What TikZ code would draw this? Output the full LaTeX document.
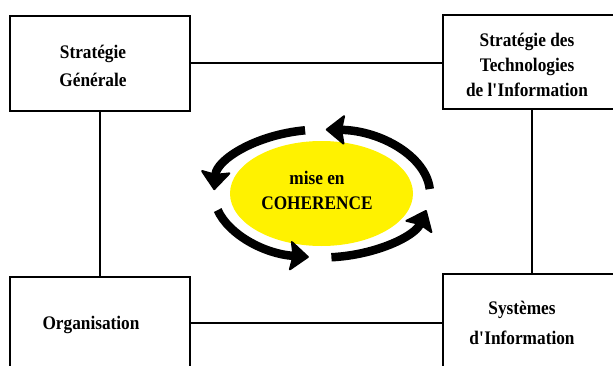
\documentclass[tikz,border=0pt]{standalone}
\usepackage{fontspec}
\setmainfont{Liberation Serif}[FakeStretch=0.9]
\usetikzlibrary{arrows.meta,shapes.geometric}
\begin{document}
\begin{tikzpicture}[x=1pt,y=1pt,
  box/.style={draw=black, line width=2pt, inner sep=0pt},
  link/.style={draw=black, line width=2pt},
  lbl/.style={font=\bfseries\fontsize{19.2}{#1}\selectfont, align=center, inner sep=0pt},
  cyc/.style={draw=black, line width=8.5pt, -{Stealth[length=20pt 0 0,width=32pt 0 0,inset=3pt,round,line width=2pt]}}
]
\useasboundingbox (0,0) rectangle (613,365);
% boxes
\node[box, minimum width=180pt, minimum height=95pt] (tl) at (100,301.5) {};
\node[box, minimum width=177pt, minimum height=94pt] (tr) at (531.5,303) {};
\node[box, minimum width=180pt, minimum height=92pt] (bl) at (100,42) {};
\node[box, minimum width=177pt, minimum height=98pt] (br) at (531.5,42) {};
% connectors
\draw[link] (tl.east) -- (tl.east -| tr.west);
\draw[link] (tl.south) -- (bl.north);
\draw[link] (tr.south) -- (br.north);
\draw[link] (bl.east) -- (bl.east -| br.west);
% labels
\node[lbl=28] (tltxt) at (93,299) {Stratégie\\Générale};
\node[lbl=25] (trtxt) at (527,300.5) {Stratégie des\\Technologies\\de l\textquotesingle Information};
\node[lbl=20] (bltxt) at (91,40) {Organisation};
\node[lbl=30] (brtxt) at (522,42) {Systèmes\\d\textquotesingle Information};
% centre
\node[ellipse, fill=yellow, minimum width=183pt, minimum height=105pt, inner sep=0pt] (coh) at (321.5,171.5) {};
\node[lbl=25] (cohtxt) at (317,174.5) {mise en\\COHERENCE};
\coordinate (o) at (322,171.5);
\draw[cyc] ([shift={(4:108pt and 64pt)}]o) arc[start angle=4, end angle=88, x radius=108pt, y radius=64pt];
\draw[cyc] ([shift={(99:108pt and 64pt)}]o) arc[start angle=99, end angle=177, x radius=108pt, y radius=64pt];
\draw[cyc] ([shift={(195:108pt and 64pt)}]o) arc[start angle=195, end angle=263, x radius=108pt, y radius=64pt];
\draw[cyc] ([shift={(275:108pt and 64pt)}]o) arc[start angle=275, end angle=345, x radius=108pt, y radius=64pt];
\end{tikzpicture}
\end{document}
